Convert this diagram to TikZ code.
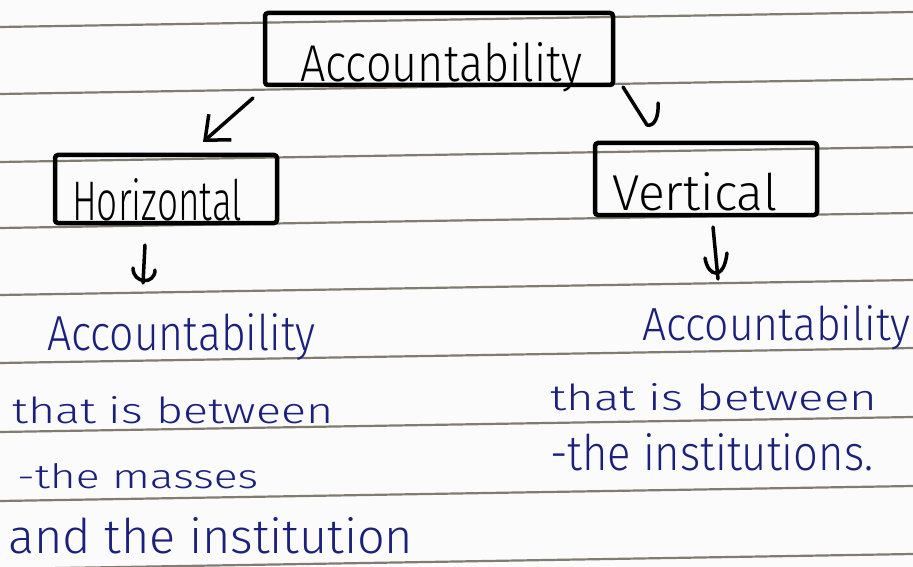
\documentclass[tikz,border=0pt]{standalone}
\usepackage{graphicx}
\usepackage{fontspec}
\setmainfont{Fira Sans Light}
\usetikzlibrary{arrows.meta}
\definecolor{ink}{RGB}{28,32,125}
\definecolor{ruleline}{RGB}{130,124,112}
\definecolor{paper}{RGB}{251,251,251}
\newcommand\fitt[3]{\resizebox{#1pt}{#2pt}{#3}}
\begin{document}
\begin{tikzpicture}[x=1pt,y=-1pt,
  box/.style={draw=black, line width=4.5pt, rounded corners=3pt, inner sep=0pt},
  btext/.style={inner sep=0pt, anchor=base west, text=black},
  itext/.style={inner sep=0pt, anchor=base west, text=ink},
  hand/.style={line width=3.5pt, line cap=round, line join=round, draw=black},
  vbarb/.style={-{Straight Barb[length=20pt,width=34pt]}},
  paperrule/.style={draw=ruleline, line width=2.2pt}
]
\useasboundingbox (0,0) rectangle (913,567);
\fill[paper] (0,0) rectangle (913,567);
% ruled paper lines
\foreach \yy in {27,94,162,228,295,363,432,501,569}
  \draw[paperrule] (0,\yy) -- (913,{\yy-15});

% boxes
\node[box, minimum width=348pt, minimum height=72pt] (acc) at (439,49) {};
\node[box, minimum width=222pt, minimum height=68pt] (hor) at (166,189) {};
\node[box, minimum width=222pt, minimum height=72pt] (ver) at (706,179) {};

% box texts
\node[btext] (acct) at (300,82) {\fitt{282}{39}{Accountability}};
\node[btext] (hort) at (72,220) {\fitt{170}{42}{Horizontal}};
\node[btext] (vert) at (612,210) {\fitt{165}{38}{Vertical}};

% blue notes
\node[itext] (l1) at (47,350) {\fitt{268}{37}{Accountability}};
\node[itext] (l2) at (12,423) {\fitt{321}{27}{that is between}};
\node[itext] (l3) at (17,488) {\fitt{241}{25}{-the masses}};
\node[itext] (l4) at (8,553) {\fitt{405}{36}{and the institution}};
\node[itext] (r1) at (642,340) {\fitt{268}{35}{Accountability}};
\node[itext] (r2) at (550,410) {\fitt{327}{27}{that is between}};
\node[itext] (r3) at (550,470) {\fitt{323}{37}{-the institutions.}};

% arrow end points
\coordinate (a1s) at (253,98);
\coordinate (a1e) at (203,142);
\coordinate (a2s) at (623,87);
\coordinate (a2e) at (647,125);
\coordinate (a3s) at (145,245);
\coordinate (a3e) at (143,283);
\coordinate (a4s) at (713,227);
\coordinate (a4e) at (718,279);

% Accountability -> Horizontal
\draw[hand, vbarb] (a1s) -- (a1e);
% Accountability -> Vertical (hooked head)
\draw[hand] (a2s) -- (a2e)
  .. controls ([shift={(8,2)}]a2e) and ([shift={(12,-10)}]a2e) .. ([shift={(11,-22)}]a2e);
% Horizontal -> note (cup head)
\draw[hand] (a3s) -- (a3e);
\draw[hand] ([shift={(-10,-15)}]a3e) .. controls ([shift={(-10,1)}]a3e) and ([shift={(12,2)}]a3e) .. ([shift={(12,-13)}]a3e);
% Vertical -> note (cup head)
\draw[hand] (a4s) -- (a4e);
\draw[hand] ([shift={(-13,-21)}]a4e) .. controls ([shift={(-10,-2)}]a4e) and ([shift={(6,2)}]a4e) .. ([shift={(9,-26)}]a4e);
\end{tikzpicture}
\end{document}
